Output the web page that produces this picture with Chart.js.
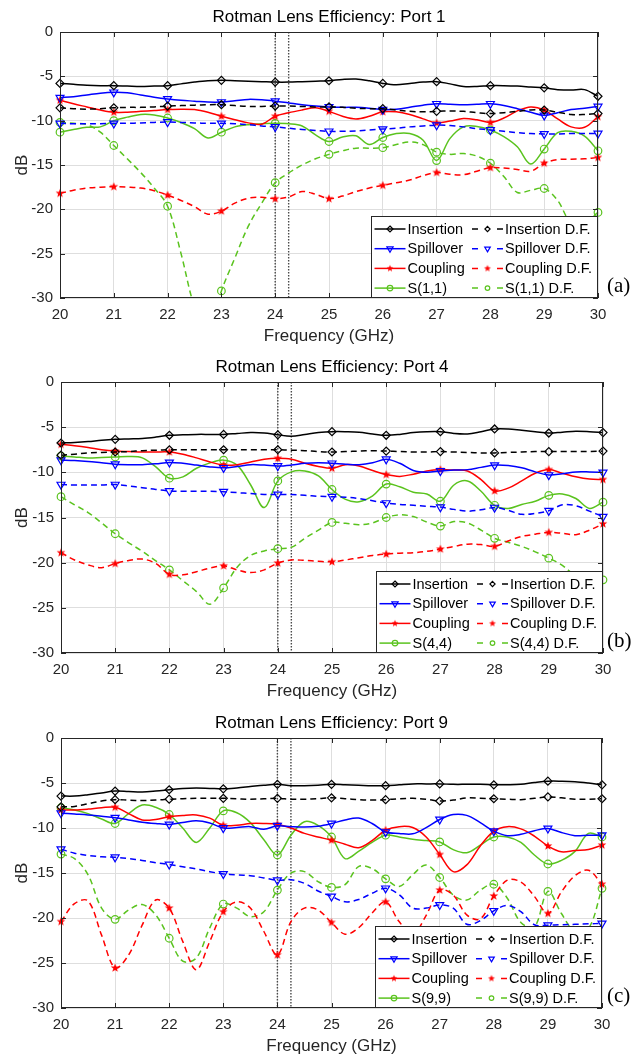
<!DOCTYPE html>
<html>
<head>
<meta charset="utf-8">
<title>Rotman Lens Efficiency</title>
<script src="https://cdn.jsdelivr.net/npm/chart.js@4.4.1/dist/chart.umd.min.js"></script>
<style>
  html, body { margin: 0; padding: 0; background: #fff; }
  #wrap { position: relative; width: 636px; height: 1057px; overflow: hidden; }
  canvas { position: absolute; left: 0; top: 0; }
</style>
</head>
<body>
<div id="wrap">
  <canvas id="port1" width="636" height="1057"></canvas>
  <canvas id="port4" width="636" height="1057"></canvas>
  <canvas id="port9" width="636" height="1057"></canvas>
</div>
<script>
// frequency grid (GHz), markers only drawn on whole GHz
const freq = [20, 20.25, 20.5, 20.75, 21, 21.25, 21.5, 21.75, 22, 22.25, 22.5, 22.75,
  23, 23.25, 23.5, 23.75, 24, 24.25, 24.5, 24.75, 25, 25.25, 25.5, 25.75,
  26, 26.25, 26.5, 26.75, 27, 27.25, 27.5, 27.75, 28, 28.25, 28.5, 28.75,
  29, 29.25, 29.5, 29.75, 30];
const guideFreqs = [24, 24.25];
const seriesNames = ["Insertion", "Insertion D.F.", "Spillover", "Spillover D.F.", "Coupling", "Coupling D.F."];

// ---- Port 1 ----
const p1Insertion = [-5.8, -5.9, -6.0, -6.05, -6.05, -6.1, -6.15, -6.1, -6.05, -5.85, -5.65, -5.5,
  -5.45, -5.5, -5.55, -5.6, -5.65, -5.65, -5.6, -5.55, -5.5, -5.35, -5.3, -5.5,
  -5.8, -5.95, -5.8, -5.65, -5.6, -5.85, -6.15, -6.15, -6.05, -6.05, -6.1, -6.2,
  -6.3, -6.5, -6.55, -6.5, -7.25];
const p1InsertionDF = [-8.55, -8.65, -8.7, -8.65, -8.55, -8.5, -8.5, -8.45, -8.35, -8.3, -8.25, -8.2,
  -8.2, -8.3, -8.4, -8.4, -8.35, -8.35, -8.4, -8.45, -8.45, -8.5, -8.6, -8.65,
  -8.65, -8.8, -8.95, -9.0, -8.95, -8.9, -8.95, -9.1, -9.2, -9.1, -8.95, -8.8,
  -8.8, -9.05, -9.3, -9.3, -9.2];
const p1Spillover = [-7.4, -7.3, -7.1, -6.9, -6.8, -6.85, -7.1, -7.35, -7.55, -7.7, -7.8, -7.9,
  -7.9, -7.75, -7.6, -7.65, -7.8, -8.0, -8.2, -8.35, -8.45, -8.5, -8.5, -8.6,
  -8.75, -8.7, -8.5, -8.25, -8.1, -8.15, -8.2, -8.15, -8.1, -8.3, -8.65, -9.05,
  -9.4, -9.1, -8.75, -8.6, -8.4];
const p1SpilloverDF = [-10.3, -10.35, -10.35, -10.35, -10.3, -10.3, -10.25, -10.2, -10.15, -10.2, -10.25, -10.3,
  -10.3, -10.35, -10.45, -10.6, -10.7, -10.85, -11.0, -11.1, -11.2, -11.2, -11.15, -11.05,
  -10.95, -10.85, -10.7, -10.6, -10.5, -10.55, -10.7, -10.9, -11.05, -11.2, -11.35, -11.45,
  -11.5, -11.5, -11.45, -11.45, -11.45];
const p1Coupling = [-7.7, -8.1, -8.45, -8.8, -9.05, -9.05, -8.95, -8.85, -8.75, -8.7, -8.75, -9.05,
  -9.5, -9.9, -10.25, -10.4, -9.5, -9.1, -8.8, -8.55, -8.95, -9.5, -9.8, -9.5,
  -9.0, -9.0, -9.3, -9.8, -10.25, -10.05, -9.75, -9.9, -10.2, -9.7, -8.9, -8.45,
  -8.8, -9.8, -10.7, -10.75, -9.55];
const p1CouplingDF = [-18.2, -17.85, -17.6, -17.5, -17.45, -17.5, -17.6, -17.9, -18.4, -19.0, -19.7, -20.55,
  -20.2, -19.3, -18.75, -18.65, -18.8, -18.6, -18.0, -18.3, -18.8, -18.5, -18.0, -17.6,
  -17.3, -17.0, -16.7, -16.2, -15.85, -16.05, -16.1, -15.7, -15.3, -15.35, -15.5, -15.7,
  -14.8, -14.4, -14.35, -14.3, -14.15];
const p1Refl = [-11.3, -11.0, -10.75, -10.7, -10.0, -9.6, -9.3, -9.35, -9.7, -10.2, -10.9, -11.95,
  -11.3, -10.7, -10.45, -10.35, -10.3, -10.35, -10.6, -11.6, -12.35, -11.85, -11.7, -12.7,
  -11.9, -11.45, -11.45, -12.2, -14.5, -12.0, -10.7, -10.65, -11.05, -11.8, -12.95, -14.9,
  -13.2, -11.35, -11.2, -11.75, -13.4];
const p1ReflDF = [-10.2, -10.3, -10.45, -11.3, -12.8, -14.3, -15.85, -17.6, -19.65, -25.0, -31.0, -34.0,
  -29.2, -25.5, -21.9, -19.3, -17.0, -15.9, -15.0, -14.3, -13.8, -13.4, -13.1, -13.1,
  -13.05, -12.7, -12.4, -12.7, -13.55, -13.8, -13.7, -14.0, -14.8, -16.3, -18.1, -17.85,
  -17.65, -19.0, -21.5, -21.5, -20.35];

// ---- Port 4 ----
const p4Insertion = [-6.75, -6.7, -6.6, -6.45, -6.35, -6.3, -6.25, -6.1, -5.9, -5.85, -5.8, -5.8,
  -5.8, -5.7, -5.6, -5.65, -5.85, -6.0, -5.8, -5.6, -5.5, -5.5, -5.55, -5.75,
  -5.9, -5.8, -5.6, -5.5, -5.5, -5.7, -5.75, -5.5, -5.2, -5.2, -5.35, -5.5,
  -5.65, -5.55, -5.45, -5.5, -5.6];
const p4InsertionDF = [-8.1, -8.0, -7.85, -7.8, -7.75, -7.7, -7.6, -7.55, -7.5, -7.5, -7.5, -7.5,
  -7.5, -7.5, -7.5, -7.5, -7.5, -7.55, -7.6, -7.7, -7.75, -7.7, -7.65, -7.6,
  -7.65, -7.7, -7.75, -7.75, -7.7, -7.75, -7.8, -7.85, -7.85, -7.8, -7.75, -7.7,
  -7.7, -7.7, -7.7, -7.7, -7.65];
const p4Spillover = [-8.65, -8.7, -8.8, -8.95, -9.1, -9.15, -9.15, -9.05, -8.9, -9.0, -9.2, -9.4,
  -9.5, -9.35, -9.15, -9.2, -9.3, -9.2, -9.0, -8.95, -9.0, -9.1, -9.15, -8.95,
  -8.55, -9.0, -9.8, -10.0, -9.85, -9.75, -9.7, -9.45, -9.2, -9.25, -9.5, -9.95,
  -10.3, -10.15, -9.95, -9.95, -10.0];
const p4SpilloverDF = [-11.35, -11.4, -11.4, -11.4, -11.35, -11.5, -11.7, -11.9, -12.05, -12.1, -12.1, -12.1,
  -12.15, -12.25, -12.35, -12.45, -12.45, -12.45, -12.55, -12.65, -12.7, -12.75, -12.9, -13.15,
  -13.4, -13.55, -13.65, -13.75, -13.85, -14.1, -14.3, -14.15, -13.9, -14.2, -14.65, -14.55,
  -14.25, -13.6, -13.7, -14.3, -14.9];
const p4Coupling = [-6.9, -7.05, -7.25, -7.5, -7.65, -7.7, -7.75, -7.75, -7.75, -8.0, -8.4, -8.85,
  -9.2, -9.15, -8.85, -8.55, -8.45, -8.55, -9.0, -9.35, -9.55, -9.15, -9.3, -9.8,
  -10.25, -10.45, -10.2, -9.85, -9.7, -9.75, -9.85, -10.8, -12.05, -11.75, -10.95, -10.1,
  -9.7, -10.1, -10.5, -10.75, -10.8];
const p4CouplingDF = [-18.9, -19.7, -20.25, -20.55, -20.1, -19.75, -19.6, -20.1, -21.3, -21.35, -21.0, -20.6,
  -20.35, -20.8, -21.1, -20.8, -20.05, -19.7, -19.75, -19.85, -19.9, -19.7, -19.45, -19.2,
  -19.05, -18.95, -18.9, -18.75, -18.5, -18.2, -17.95, -18.0, -18.2, -17.6, -17.1, -16.85,
  -16.65, -16.75, -16.9, -16.4, -15.7];
const p4Refl = [-8.2, -8.3, -8.4, -8.35, -8.3, -8.25, -8.4, -9.4, -10.65, -10.5, -9.55, -8.95,
  -8.65, -9.2, -11.4, -13.9, -10.95, -9.95, -9.85, -10.4, -11.9, -13.0, -13.25, -12.6,
  -11.3, -11.6, -12.2, -12.4, -13.2, -11.4, -10.95, -12.1, -13.65, -14.0, -13.55, -13.2,
  -12.55, -12.4, -12.9, -14.0, -13.3];
const p4ReflDF = [-12.7, -13.6, -14.45, -15.6, -16.8, -17.8, -18.75, -19.8, -20.8, -22.0, -23.2, -24.6,
  -22.8, -20.5, -19.2, -18.7, -18.45, -18.3, -17.3, -16.4, -15.55, -15.65, -15.8, -15.6,
  -15.0, -14.7, -14.9, -15.5, -15.95, -15.45, -15.6, -16.4, -17.3, -17.75, -18.2, -18.8,
  -19.5, -20.3, -21.5, -22.0, -21.9];

// ---- Port 9 ----
const p9Insertion = [-6.45, -6.45, -6.3, -6.1, -5.9, -5.95, -6.0, -5.9, -5.75, -5.6, -5.55, -5.6,
  -5.65, -5.55, -5.4, -5.25, -5.15, -5.3, -5.3, -5.25, -5.15, -5.2, -5.25, -5.3,
  -5.3, -5.2, -5.1, -5.1, -5.1, -5.15, -5.15, -5.15, -5.2, -5.2, -5.15, -4.95,
  -4.8, -4.8, -4.85, -5.0, -5.2];
const p9InsertionDF = [-7.65, -7.6, -7.3, -7.0, -6.85, -6.9, -6.95, -6.9, -6.8, -6.75, -6.7, -6.7,
  -6.7, -6.75, -6.8, -6.75, -6.7, -6.8, -6.8, -6.75, -6.65, -6.75, -6.85, -6.9,
  -6.85, -6.75, -6.7, -6.8, -7.0, -6.9, -6.65, -6.7, -6.75, -6.8, -6.85, -6.7,
  -6.55, -6.65, -6.8, -6.8, -6.75];
const p9Spillover = [-8.35, -8.45, -8.55, -8.7, -8.85, -9.1, -9.35, -9.5, -9.6, -9.4, -9.2, -9.45,
  -10.0, -9.95, -9.85, -10.15, -9.75, -9.85, -9.9, -9.8, -9.5, -9.1, -8.9, -9.5,
  -10.45, -10.6, -10.65, -9.95, -9.05, -8.5, -8.6, -9.4, -10.35, -10.85, -10.7, -10.3,
  -10.05, -10.5, -10.85, -10.8, -10.8];
const p9SpilloverDF = [-12.35, -12.8, -13.05, -13.2, -13.25, -13.4, -13.6, -13.85, -14.05, -14.3, -14.55, -14.85,
  -15.1, -15.2, -15.3, -15.55, -15.8, -15.75, -16.15, -17.0, -17.6, -18.2, -17.95, -17.25,
  -16.7, -17.4, -18.9, -18.9, -18.55, -18.9, -20.7, -20.3, -19.2, -18.6, -19.3, -20.75,
  -20.8, -20.75, -20.7, -20.65, -20.6];
const p9Coupling = [-8.0, -8.0, -7.9, -7.75, -7.7, -8.4, -9.1, -9.05, -8.75, -8.6, -8.55, -8.9,
  -9.7, -9.7, -9.5, -9.5, -9.6, -10.0, -10.6, -11.0, -11.35, -11.8, -12.2, -11.4,
  -10.25, -9.85, -9.95, -11.0, -12.95, -14.85, -14.1, -12.0, -10.35, -9.85, -10.1, -10.9,
  -12.0, -12.65, -12.5, -12.4, -11.9];
const p9CouplingDF = [-20.4, -18.4, -18.1, -21.9, -25.55, -24.1, -20.8, -18.0, -18.9, -22.6, -25.75, -22.6,
  -19.3, -18.2, -18.9, -21.5, -24.1, -20.4, -18.9, -19.1, -20.5, -21.8, -21.1, -19.45,
  -18.2, -20.4, -21.8, -19.7, -16.9, -17.45, -19.65, -20.1, -17.55, -15.8, -16.0, -17.6,
  -19.5, -17.1, -15.3, -14.7, -16.25];
const p9Refl = [-7.75, -8.0, -8.4, -9.0, -9.5, -8.4, -7.45, -7.7, -8.5, -10.0, -11.6, -10.0,
  -8.1, -8.3, -9.4, -11.3, -13.0, -10.8, -9.3, -9.7, -11.0, -13.4, -12.6, -11.6,
  -10.8, -11.0, -11.25, -11.4, -11.55, -12.4, -12.75, -11.9, -11.0, -11.0, -11.6, -13.0,
  -14.0, -13.6, -12.6, -10.6, -11.0];
const p9ReflDF = [-12.9, -13.4, -15.2, -18.9, -20.15, -19.1, -18.5, -19.65, -22.25, -24.8, -24.45, -21.1,
  -18.45, -18.9, -19.85, -19.3, -16.9, -15.0, -14.85, -15.95, -16.6, -16.3, -14.3, -14.5,
  -15.65, -16.5, -15.2, -14.1, -15.5, -17.45, -18.0, -16.9, -16.25, -17.8, -20.5, -21.0,
  -17.05, -19.5, -21.5, -21.2, -16.7];

// ---------------------------------------------------------------
Chart.defaults.font.family = "'Liberation Sans', Arial, sans-serif";
Chart.defaults.animation = false;

const W = 636, H = 1057;
const axisGrey = '#262626';
const green = '#5ac31e';

function makeStar(color, r) {
  const c = document.createElement('canvas');
  const s = Math.ceil(r * 2 + 2);
  c.width = s; c.height = s;
  const g = c.getContext('2d');
  g.fillStyle = color;
  g.beginPath();
  for (let k = 0; k < 10; k++) {
    const rad = k % 2 ? r * 0.42 : r;
    const a = -Math.PI / 2 + k * Math.PI / 5;
    g.lineTo(s / 2 + rad * Math.cos(a), s / 2 + rad * Math.sin(a));
  }
  g.closePath();
  g.fill();
  return c;
}
const starImg = makeStar('#ff0000', 4.6);
const starSmall = makeStar('#ff0000', 3.6);

// lr = marker size used in the legend box (smaller than in the plot)
const looks = [
  { color: '#000000', shape: 'rectRot', r: 4, lr: 3 },
  { color: '#000000', shape: 'rectRot', r: 4, lr: 2.6, dash: true },
  { color: '#0000ff', shape: 'triangle', rot: 180, r: 4.6, lr: 3.6 },
  { color: '#0000ff', shape: 'triangle', rot: 180, r: 4.6, lr: 3.2, dash: true },
  { color: '#ff0000', shape: starImg, legendShape: starSmall, r: 4, lr: 3 },
  { color: '#ff0000', shape: starImg, legendShape: starSmall, r: 4, lr: 3, dash: true },
  { color: green, shape: 'circle', r: 3.8, lr: 2.8 },
  { color: green, shape: 'circle', r: 3.8, lr: 2.3, dash: true }
];

function makeSeries(label, values, look) {
  return {
    label: label,
    data: freq.map((f, i) => ({ x: f, y: values[i] })),
    borderColor: look.color,
    backgroundColor: look.color,
    borderWidth: 1.5,
    borderDash: look.dash ? [6, 4] : [],
    tension: 0.35,
    pointStyle: look.shape,
    pointRotation: look.rot || 0,
    pointBackgroundColor: 'rgba(0,0,0,0)',
    pointBorderColor: look.color,
    pointBorderWidth: 1.2,
    pointRadius: c => Number.isInteger(freq[c.dataIndex]) ? look.r : 0,
    pointHoverRadius: c => Number.isInteger(freq[c.dataIndex]) ? look.r : 0,
    clip: { left: 8, right: 8, top: 8, bottom: 0 },
    look: look
  };
}

function guideLine(f) {
  return {
    label: '',
    guide: true,
    data: [{ x: f, y: 0 }, { x: f, y: -30 }],
    borderColor: '#4a4a4a',
    borderWidth: 1.4,
    borderDash: [1.5, 1.5],
    pointRadius: 0,
    tension: 0
  };
}

function drawMarker(ctx, look, x, y, r) {
  ctx.save();
  ctx.setLineDash([]);
  ctx.strokeStyle = look.color;
  ctx.lineWidth = 1.2;
  if (typeof look.shape !== 'string') {
    const img = look.legendShape || look.shape;
    ctx.drawImage(img, x - img.width / 2, y - img.height / 2);
    ctx.restore();
    return;
  }
  ctx.beginPath();
  if (look.shape === 'rectRot') {
    ctx.moveTo(x, y - r); ctx.lineTo(x + r, y); ctx.lineTo(x, y + r); ctx.lineTo(x - r, y);
    ctx.closePath();
  } else if (look.shape === 'triangle') {
    ctx.moveTo(x, y + r); ctx.lineTo(x + r * 0.866, y - r / 2); ctx.lineTo(x - r * 0.866, y - r / 2);
    ctx.closePath();
  } else {
    ctx.arc(x, y, r, 0, Math.PI * 2);
  }
  ctx.stroke();
  ctx.restore();
}

const panelDecor = {
  id: 'panelDecor',
  afterDatasetsDraw(chart, args, opts) {
    const ctx = chart.ctx, a = chart.chartArea;
    const xs = chart.scales.x, ys = chart.scales.y;
    ctx.save();
    // frame with inward ticks
    ctx.strokeStyle = axisGrey;
    ctx.lineWidth = 1;
    ctx.setLineDash([]);
    ctx.beginPath();
    xs.ticks.forEach(t => {
      const px = Math.round(xs.getPixelForValue(t.value)) + 0.5;
      ctx.moveTo(px, a.bottom); ctx.lineTo(px, a.bottom - 5);
      ctx.moveTo(px, a.top); ctx.lineTo(px, a.top + 5);
    });
    ys.ticks.forEach(t => {
      const py = Math.round(ys.getPixelForValue(t.value)) + 0.5;
      ctx.moveTo(a.left, py); ctx.lineTo(a.left + 5, py);
      ctx.moveTo(a.right, py); ctx.lineTo(a.right - 5, py);
    });
    ctx.stroke();
    ctx.strokeRect(Math.round(a.left) + 0.5, Math.round(a.top) + 0.5,
      Math.round(a.right) - Math.round(a.left) - 1, Math.round(a.bottom) - Math.round(a.top) - 1);

    // legend, two columns, bottom right inside the axes
    const left = Math.round(a.right - 227) + 0.5, top = Math.round(a.bottom - 82) + 0.5;
    const right = Math.round(a.right) - 0.5, bottom = Math.round(a.bottom) - 0.5;
    ctx.fillStyle = '#ffffff';
    ctx.fillRect(left, top, right - left, bottom - top);
    ctx.strokeStyle = axisGrey;
    ctx.strokeRect(left, top, right - left, bottom - top);
    ctx.font = "14.5px 'Liberation Sans', Arial, sans-serif";
    ctx.textBaseline = 'middle';
    ctx.textAlign = 'left';
    chart.data.datasets.forEach((ds, i) => {
      if (ds.guide) return;
      const col = i % 2, row = Math.floor(i / 2);
      const x0 = left + 3 + col * 97.5, y = top + 12.5 + row * 19.7;
      ctx.strokeStyle = ds.look.color;
      ctx.lineWidth = 1.5;
      ctx.setLineDash([]);
      ctx.beginPath();
      if (ds.look.dash) {
        ctx.moveTo(x0, y); ctx.lineTo(x0 + 6, y);
        ctx.moveTo(x0 + 25, y); ctx.lineTo(x0 + 31, y);
      } else {
        ctx.moveTo(x0, y); ctx.lineTo(x0 + 31, y);
      }
      ctx.stroke();
      drawMarker(ctx, ds.look, x0 + 15.5, y, ds.look.lr);
      ctx.fillStyle = '#000000';
      ctx.fillText(ds.label, x0 + 33, y + 0.5);
    });
    ctx.restore();
  },
  afterDraw(chart, args, opts) {
    const ctx = chart.ctx, a = chart.chartArea;
    const cx = (a.left + a.right) / 2;
    ctx.save();
    ctx.textAlign = 'center';
    ctx.textBaseline = 'middle';
    ctx.fillStyle = '#000000';
    ctx.font = "17px 'Liberation Sans', Arial, sans-serif";
    ctx.fillText(opts.title, cx, a.top - 15);
    ctx.fillStyle = axisGrey;
    ctx.fillText('Frequency (GHz)', cx, a.bottom + 38);
    ctx.translate(22, (a.top + a.bottom) / 2);
    ctx.rotate(-Math.PI / 2);
    ctx.fillText('dB', 0, 0);
    ctx.restore();
    ctx.save();
    ctx.fillStyle = '#000000';
    ctx.font = "21px 'Liberation Serif', 'Times New Roman', serif";
    ctx.textAlign = 'left';
    ctx.textBaseline = 'middle';
    ctx.fillText(opts.tag, 607, a.bottom - 12);
    ctx.restore();
  }
};

function drawPanel(id, title, tag, sName, values, box) {
  const names = seriesNames.concat([sName, sName + ' D.F.']);
  const datasets = values.map((v, i) => makeSeries(names[i], v, looks[i]));
  guideFreqs.forEach(f => datasets.push(guideLine(f)));
  const tickFont = { family: "'Liberation Sans', Arial, sans-serif", size: 15 };
  return new Chart(document.getElementById(id), {
    type: 'line',
    data: { datasets: datasets },
    plugins: [panelDecor],
    options: {
      responsive: false,
      animation: false,
      events: [],
      layout: { padding: { left: 0, top: box.top, right: W - box.right, bottom: 0 } },
      plugins: {
        legend: { display: false },
        tooltip: { enabled: false },
        title: { display: false },
        panelDecor: { title: title, tag: tag }
      },
      scales: {
        x: {
          type: 'linear', min: 20, max: 30,
          afterFit: s => { s.height = H - box.bottom; },
          ticks: { stepSize: 1, font: tickFont, color: axisGrey, padding: 8, maxRotation: 0, autoSkip: false },
          grid: { color: '#dedede', drawTicks: false },
          border: { display: false }
        },
        y: {
          min: -30, max: 0,
          afterFit: s => { s.width = box.left; },
          ticks: { stepSize: 5, font: tickFont, color: axisGrey, padding: 7 },
          grid: { color: '#dedede', drawTicks: false },
          border: { display: false }
        }
      }
    }
  });
}

drawPanel('port1', 'Rotman Lens Efficiency: Port 1', '(a)', 'S(1,1)',
  [p1Insertion, p1InsertionDF, p1Spillover, p1SpilloverDF, p1Coupling, p1CouplingDF, p1Refl, p1ReflDF],
  { left: 60, right: 598, top: 32, bottom: 298 });
drawPanel('port4', 'Rotman Lens Efficiency: Port 4', '(b)', 'S(4,4)',
  [p4Insertion, p4InsertionDF, p4Spillover, p4SpilloverDF, p4Coupling, p4CouplingDF, p4Refl, p4ReflDF],
  { left: 61, right: 603, top: 382, bottom: 653 });
drawPanel('port9', 'Rotman Lens Efficiency: Port 9', '(c)', 'S(9,9)',
  [p9Insertion, p9InsertionDF, p9Spillover, p9SpilloverDF, p9Coupling, p9CouplingDF, p9Refl, p9ReflDF],
  { left: 61, right: 602, top: 738, bottom: 1008 });
</script>
</body>
</html>
